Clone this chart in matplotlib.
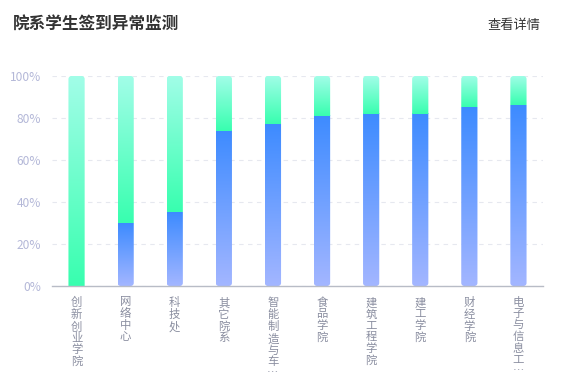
import numpy as np
import matplotlib.pyplot as plt
from matplotlib.path import Path
from matplotlib.patches import PathPatch
from matplotlib.colors import LinearSegmentedColormap
from matplotlib.ticker import FuncFormatter

plt.rcParams['font.family'] = ['Noto Sans CJK SC', 'DejaVu Sans']

# data
colleges = ["创新创业学院", "网络中心", "科技处", "其它院系", "智能制造与车…",
            "食品学院", "建筑工程学院", "建工学院", "财经学院", "电子与信息工…"]
normal_pct = [0, 30, 35, 74, 77, 81, 82, 82, 85, 86]
abnormal_pct = [100 - v for v in normal_pct]

blue_cmap = LinearSegmentedColormap.from_list("blue", ["#a3b6ff", "#3d8bff"])
green_cmap = LinearSegmentedColormap.from_list("green", ["#38ffaf", "#a2fde8"])


def rounded_bar(x0, y0, w, h, rx, ry, round_bottom=True):
    # rounded rectangle path in data coords (separate x / y radii)
    k = 0.5523
    x1, y1 = x0 + w, y0 + h
    verts = []
    codes = []
    if round_bottom:
        verts += [(x0 + rx, y0), (x1 - rx, y0),
                  (x1 - rx + k * rx, y0), (x1, y0 + ry - k * ry), (x1, y0 + ry)]
        codes += [Path.MOVETO, Path.LINETO, Path.CURVE4, Path.CURVE4, Path.CURVE4]
    else:
        verts += [(x0, y0), (x1, y0)]
        codes += [Path.MOVETO, Path.LINETO]
    verts += [(x1, y1 - ry),
              (x1, y1 - ry + k * ry), (x1 - rx + k * rx, y1), (x1 - rx, y1),
              (x0 + rx, y1),
              (x0 + rx - k * rx, y1), (x0, y1 - ry + k * ry), (x0, y1 - ry)]
    codes += [Path.LINETO, Path.CURVE4, Path.CURVE4, Path.CURVE4,
              Path.LINETO, Path.CURVE4, Path.CURVE4, Path.CURVE4]
    if round_bottom:
        verts += [(x0, y0 + ry), (x0, y0 + ry - k * ry), (x0 + rx - k * rx, y0), (x0 + rx, y0)]
        codes += [Path.LINETO, Path.CURVE4, Path.CURVE4, Path.CURVE4]
    else:
        verts += [(x0, y0)]
        codes += [Path.LINETO]
    verts.append((0, 0))
    codes.append(Path.CLOSEPOLY)
    return Path(verts, codes)


fig = plt.figure(figsize=(5.61, 3.92), dpi=100)
ax = fig.add_axes([52 / 561, 1 - 286 / 392, 491 / 561, 210 / 392])

n = len(colleges)
xs = np.arange(n)
bar_w = 0.33
grad = np.linspace(0, 1, 256).reshape(-1, 1)

ax.set_xlim(-0.5, n - 0.5)
ax.set_ylim(0, 100)

# 3px corner radius converted to data units
rx = 3 / (491 / n)
ry = 3 / 2.1

for i, x in enumerate(xs):
    x0 = x - bar_w / 2
    clip = PathPatch(rounded_bar(x0, 0, bar_w, 100, rx, ry, normal_pct[i] > 0),
                     facecolor='none', edgecolor='none', transform=ax.transData)
    ax.add_patch(clip)
    if normal_pct[i] > 0:
        im = ax.imshow(grad, cmap=blue_cmap, origin='lower', aspect='auto',
                       extent=[x0, x0 + bar_w, 0, normal_pct[i]], zorder=2)
        im.set_clip_path(clip)
    im = ax.imshow(grad, cmap=green_cmap, origin='lower', aspect='auto',
                   extent=[x0, x0 + bar_w, normal_pct[i], 100], zorder=2)
    im.set_clip_path(clip)

ax.set_xlim(-0.5, n - 0.5)
ax.set_ylim(0, 100)

ax.set_yticks([0, 20, 40, 60, 80, 100])
ax.yaxis.set_major_formatter(FuncFormatter(lambda v, p: f"{int(v)}%"))
ax.grid(axis='y', color='#e6e8ef', linestyle=(0, (4, 4)), linewidth=0.8)
ax.set_axisbelow(True)
for s in ['top', 'right', 'left']:
    ax.spines[s].set_visible(False)
ax.spines['bottom'].set_color('#b8bcc6')
ax.spines['bottom'].set_linewidth(1)
ax.tick_params(axis='y', length=0, pad=8, labelsize=8.6, labelcolor='#b4b8d8')
ax.tick_params(axis='x', length=0, pad=8)

ax.set_xticks(xs)
ax.set_xticklabels(["\n".join(name) for name in colleges], fontsize=8.2,
                   color='#8a8ea0', va='top', linespacing=1.12)

fig.text(13 / 561, 1 - 25 / 392, "院系学生签到异常监测", fontsize=12, fontweight='bold',
         color='#333333', va='center', ha='left')
fig.text(541 / 561, 1 - 25 / 392, "查看详情", fontsize=9.5,
         color='#333333', va='center', ha='right')

fig.savefig("out.png", dpi=100)
